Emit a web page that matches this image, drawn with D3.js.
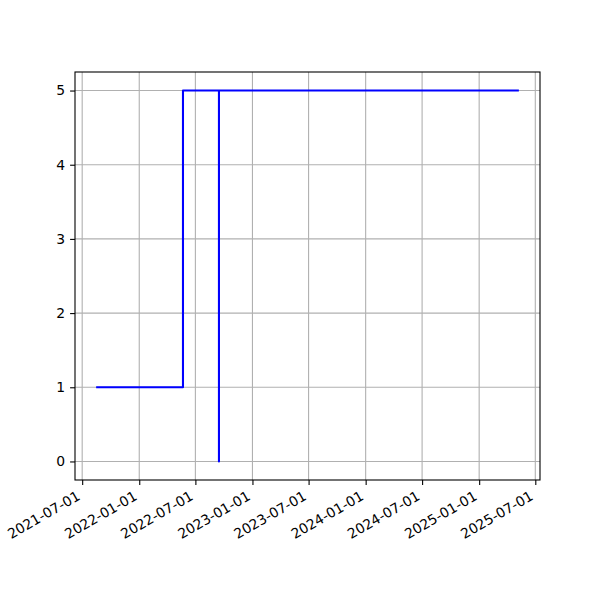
<!DOCTYPE html>
<html>
<head>
<meta charset="utf-8">
<script src="https://cdn.jsdelivr.net/npm/d3@7"></script>
<style>
  body { margin: 0; background: #fff; }
  svg { display: block; font-family: "DejaVu Sans", sans-serif; }
</style>
</head>
<body>
<svg id="chart" width="600" height="600"></svg>
<script>
// Data: step series (dates and values)
const dates = ["2021-08-15", "2022-05-22", "2022-05-22", "2022-09-15", "2022-09-15", "2022-09-15", "2025-05-09"];
const values = [1, 1, 5, 5, 0, 5, 5];
const xTickLabels = ["2021-07-01", "2022-01-01", "2022-07-01", "2023-01-01", "2023-07-01", "2024-01-01", "2024-07-01", "2025-01-01", "2025-07-01"];
const yTickValues = [0, 1, 2, 3, 4, 5];

(function () {
const parse = d3.utcParse("%Y-%m-%d");
const pts = dates.map((d, i) => ({ x: parse(d), y: values[i] }));

const mLeft = 75, mRight = 540, mTop = 72, mBottom = 480;

const svg = d3.select("#chart");

const xExt = d3.extent(pts, d => d.x);
const xPad = (xExt[1] - xExt[0]) * 0.05;
const x = d3.scaleUtc()
  .domain([new Date(+xExt[0] - xPad), new Date(+xExt[1] + xPad)])
  .range([mLeft, mRight]);

const yExt = d3.extent(pts, d => d.y);
const yPad = (yExt[1] - yExt[0]) * 0.05;
const y = d3.scaleLinear()
  .domain([yExt[0] - yPad, yExt[1] + yPad])
  .range([mBottom, mTop]);

const xTicks = xTickLabels.map(parse);

// Grid
const grid = svg.append("g").attr("class", "grid");
grid.selectAll("line.gx").data(xTicks).enter().append("line")
  .attr("x1", d => x(d)).attr("x2", d => x(d))
  .attr("y1", mTop).attr("y2", mBottom)
  .attr("stroke", "#b0b0b0").attr("stroke-width", 1.1);
grid.selectAll("line.gy").data(yTickValues).enter().append("line")
  .attr("x1", mLeft).attr("x2", mRight)
  .attr("y1", d => y(d)).attr("y2", d => y(d))
  .attr("stroke", "#b0b0b0").attr("stroke-width", 1.1);

// Line
const line = d3.line().x(d => x(d.x)).y(d => y(d.y));
svg.append("path")
  .datum(pts)
  .attr("d", line)
  .attr("fill", "none")
  .attr("stroke", "#0000ff")
  .attr("stroke-width", 2.08)
  .attr("stroke-linejoin", "round")
  .attr("stroke-linecap", "butt");

// Spines
svg.append("rect")
  .attr("x", mLeft).attr("y", mTop)
  .attr("width", mRight - mLeft).attr("height", mBottom - mTop)
  .attr("fill", "none").attr("stroke", "#000").attr("stroke-width", 1.1);

// X axis
const xAxis = d3.axisBottom(x)
  .tickValues(xTicks)
  .tickFormat(d3.utcFormat("%Y-%m-%d"))
  .tickSize(4.9)
  .tickPadding(4.9);
const gx = svg.append("g").attr("transform", `translate(0,${mBottom})`).call(xAxis);
gx.select(".domain").remove();
gx.selectAll(".tick line").attr("stroke", "#000").attr("stroke-width", 1.1);
gx.selectAll(".tick text")
  .attr("font-size", 13.9)
  .attr("font-family", "DejaVu Sans")
  .attr("fill", "#000")
  .attr("text-anchor", "end")
  .attr("y", 0).attr("dy", 0)
  .attr("transform", "translate(-1.6,18.9) rotate(-30)");

// Y axis
const yAxis = d3.axisLeft(y)
  .tickValues(yTickValues)
  .tickFormat(d3.format("d"))
  .tickSize(4.9)
  .tickPadding(4.9);
const gy = svg.append("g").attr("transform", `translate(${mLeft},0)`).call(yAxis);
gy.select(".domain").remove();
gy.selectAll(".tick line").attr("stroke", "#000").attr("stroke-width", 1.1);
gy.selectAll(".tick text")
  .attr("font-size", 13.9)
  .attr("font-family", "DejaVu Sans")
  .attr("fill", "#000");
})();
</script>
</body>
</html>
